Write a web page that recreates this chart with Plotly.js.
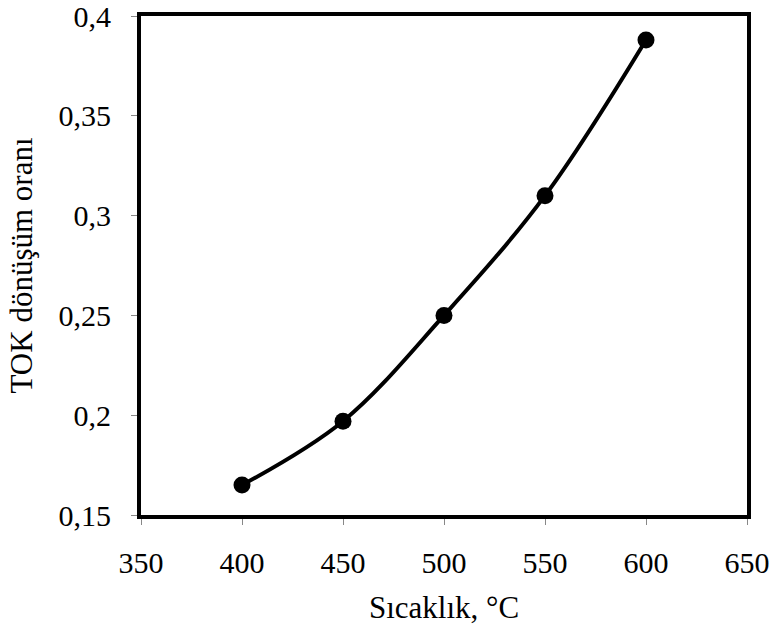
<!DOCTYPE html>
<html>
<head>
<meta charset="utf-8">
<script src="https://cdn.plot.ly/plotly-3.0.1.min.js"></script>
<style>html,body{margin:0;padding:0;background:#fff;}#chart{width:774px;height:627px;}</style>
</head>
<body>
<div id="chart"></div>
<script>
const temperatures = [400, 450, 500, 550, 600];
const conversion = [0.165, 0.197, 0.250, 0.310, 0.388];
const xTickVals = [350, 400, 450, 500, 550, 600, 650];
const yTickVals = [0.15, 0.2, 0.25, 0.3, 0.35, 0.4];
const yTickText = ["0,15", "0,2", "0,25", "0,3", "0,35", "0,4"];
const xTitle = "Sıcaklık, °C";
const yTitle = "TOK dönüşüm oranı";

function mkFont(s) { return {family: "Liberation Serif", size: s, color: "#000000"}; }

Plotly.newPlot("chart", [{
  x: temperatures,
  y: conversion,
  type: "scatter",
  mode: "lines+markers",
  line: {color: "#000", width: 4, shape: "spline", smoothing: 1},
  marker: {color: "#000", size: 17},
  showlegend: false,
  cliponaxis: false
}], {
  width: 774, height: 627,
  margin: {l: 141, r: 27, t: 16, b: 112},
  paper_bgcolor: "#fff", plot_bgcolor: "#fff",
  separators: ",.",
  font: mkFont(30),
  xaxis: {
    range: [350, 650], tickmode: "array", tickvals: xTickVals,
    showgrid: false, zeroline: false,
    showline: true, linecolor: "#000", linewidth: 4, mirror: true,
    ticks: "outside", ticklen: 6, tickwidth: 1, tickcolor: "#888",
    ticklabelstandoff: 12, ticklabeloverflow: "allow",
    tickfont: mkFont(30),
    title: {text: xTitle, font: mkFont(31), standoff: 19}
  },
  yaxis: {
    range: [0.15, 0.4], tickmode: "array", tickvals: yTickVals, ticktext: yTickText,
    showgrid: false, zeroline: false,
    showline: true, linecolor: "#000", linewidth: 4, mirror: true,
    ticks: "outside", ticklen: 6, tickwidth: 1, tickcolor: "#888",
    ticklabelstandoff: 14, ticklabeloverflow: "allow",
    tickfont: mkFont(30),
    title: {text: yTitle, font: mkFont(31), standoff: 18}
  }
}, {displayModeBar: false, staticPlot: true});
</script>
</body>
</html>
